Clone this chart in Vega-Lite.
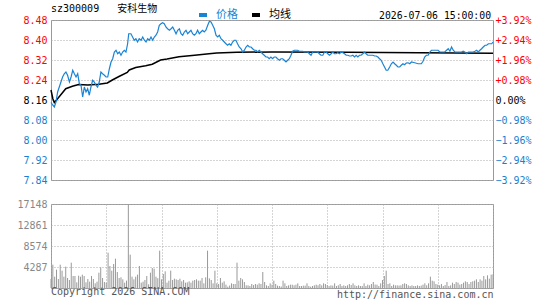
{
  "$schema": "https://vega.github.io/schema/vega-lite/v6.json",
  "background": "white",
  "padding": {"left": 16, "top": 3, "right": 5, "bottom": 0},
  "spacing": 24,
  "bounds": "flush",
  "config": {
    "font": "DejaVu Sans Mono, Noto Sans CJK SC",
    "view": {"stroke": "#999999", "strokeWidth": 1},
    "axis": {
      "labelFont": "DejaVu Sans Mono",
      "labelFontSize": 10,
      "ticks": false,
      "domain": false,
      "gridColor": "#aaaaaa",
      "gridDash": [1, 2],
      "gridOpacity": 1,
      "labelPadding": 4,
      "labelFlush": false
    }
  },
  "datasets": {
    "price": [
      {"s":"价格","t":0,"p":8.150},{"s":"价格","t":0.9,"p":8.140},{"s":"价格","t":1.8,"p":8.132},{"s":"价格","t":2.7,"p":8.152},{"s":"价格","t":3.6,"p":8.192},{"s":"价格","t":4.5,"p":8.212},{"s":"价格","t":5.4,"p":8.232},{"s":"价格","t":6.3,"p":8.252},{"s":"价格","t":7.2,"p":8.265},{"s":"价格","t":8.1,"p":8.272},{"s":"价格","t":9.0,"p":8.259},{"s":"价格","t":10.0,"p":8.232},{"s":"价格","t":10.9,"p":8.252},{"s":"价格","t":11.8,"p":8.279},{"s":"价格","t":12.7,"p":8.265},{"s":"价格","t":13.6,"p":8.252},{"s":"价格","t":14.5,"p":8.265},{"s":"价格","t":15.4,"p":8.225},{"s":"价格","t":16.3,"p":8.219},{"s":"价格","t":17.2,"p":8.172},{"s":"价格","t":18.1,"p":8.212},{"s":"价格","t":19.0,"p":8.192},{"s":"价格","t":19.9,"p":8.205},{"s":"价格","t":20.8,"p":8.179},{"s":"价格","t":21.7,"p":8.212},{"s":"价格","t":22.6,"p":8.239},{"s":"价格","t":23.5,"p":8.232},{"s":"价格","t":24.4,"p":8.219},{"s":"价格","t":25.3,"p":8.212},{"s":"价格","t":26.2,"p":8.232},{"s":"价格","t":27.1,"p":8.272},{"s":"价格","t":28.0,"p":8.265},{"s":"价格","t":29.0,"p":8.259},{"s":"价格","t":29.9,"p":8.252},{"s":"价格","t":30.8,"p":8.252},{"s":"价格","t":31.7,"p":8.285},{"s":"价格","t":32.6,"p":8.312},{"s":"价格","t":33.5,"p":8.325},{"s":"价格","t":34.4,"p":8.352},{"s":"价格","t":35.3,"p":8.359},{"s":"价格","t":36.2,"p":8.345},{"s":"价格","t":37.1,"p":8.352},{"s":"价格","t":38.0,"p":8.339},{"s":"价格","t":38.9,"p":8.352},{"s":"价格","t":39.8,"p":8.359},{"s":"价格","t":40.7,"p":8.352},{"s":"价格","t":41.6,"p":8.385},{"s":"价格","t":42.2,"p":8.425},{"s":"价格","t":43.4,"p":8.425},{"s":"价格","t":44.3,"p":8.412},{"s":"价格","t":45.2,"p":8.399},{"s":"价格","t":46.1,"p":8.405},{"s":"价格","t":47.0,"p":8.392},{"s":"价格","t":47.9,"p":8.405},{"s":"价格","t":48.9,"p":8.399},{"s":"价格","t":49.8,"p":8.412},{"s":"价格","t":50.7,"p":8.399},{"s":"价格","t":51.6,"p":8.392},{"s":"价格","t":52.5,"p":8.405},{"s":"价格","t":53.4,"p":8.399},{"s":"价格","t":54.3,"p":8.412},{"s":"价格","t":55.2,"p":8.399},{"s":"价格","t":56.1,"p":8.412},{"s":"价格","t":57.0,"p":8.419},{"s":"价格","t":57.9,"p":8.432},{"s":"价格","t":58.8,"p":8.459},{"s":"价格","t":59.7,"p":8.465},{"s":"价格","t":60.6,"p":8.469},{"s":"价格","t":61.5,"p":8.465},{"s":"价格","t":62.4,"p":8.452},{"s":"价格","t":63.3,"p":8.445},{"s":"价格","t":64.3,"p":8.439},{"s":"价格","t":65.2,"p":8.445},{"s":"价格","t":66.1,"p":8.452},{"s":"价格","t":67.0,"p":8.439},{"s":"价格","t":67.9,"p":8.425},{"s":"价格","t":68.8,"p":8.439},{"s":"价格","t":69.7,"p":8.445},{"s":"价格","t":70.6,"p":8.425},{"s":"价格","t":71.5,"p":8.419},{"s":"价格","t":72.4,"p":8.432},{"s":"价格","t":73.3,"p":8.439},{"s":"价格","t":74.2,"p":8.425},{"s":"价格","t":75.1,"p":8.432},{"s":"价格","t":76.0,"p":8.439},{"s":"价格","t":76.9,"p":8.425},{"s":"价格","t":77.8,"p":8.419},{"s":"价格","t":78.7,"p":8.425},{"s":"价格","t":79.6,"p":8.439},{"s":"价格","t":80.5,"p":8.425},{"s":"价格","t":81.4,"p":8.432},{"s":"价格","t":82.3,"p":8.439},{"s":"价格","t":83.2,"p":8.432},{"s":"价格","t":84.1,"p":8.439},{"s":"价格","t":85.1,"p":8.459},{"s":"价格","t":86.0,"p":8.475},{"s":"价格","t":86.9,"p":8.472},{"s":"价格","t":87.8,"p":8.459},{"s":"价格","t":88.7,"p":8.445},{"s":"价格","t":89.6,"p":8.419},{"s":"价格","t":90.5,"p":8.412},{"s":"价格","t":91.4,"p":8.419},{"s":"价格","t":92.3,"p":8.405},{"s":"价格","t":93.2,"p":8.399},{"s":"价格","t":94.1,"p":8.392},{"s":"价格","t":95.0,"p":8.385},{"s":"价格","t":95.9,"p":8.379},{"s":"价格","t":96.8,"p":8.385},{"s":"价格","t":97.7,"p":8.379},{"s":"价格","t":98.6,"p":8.392},{"s":"价格","t":99.5,"p":8.399},{"s":"价格","t":100.4,"p":8.399},{"s":"价格","t":101.3,"p":8.385},{"s":"价格","t":102.2,"p":8.372},{"s":"价格","t":103.2,"p":8.365},{"s":"价格","t":104.1,"p":8.352},{"s":"价格","t":105.0,"p":8.359},{"s":"价格","t":105.9,"p":8.372},{"s":"价格","t":106.8,"p":8.379},{"s":"价格","t":107.7,"p":8.372},{"s":"价格","t":108.6,"p":8.372},{"s":"价格","t":109.5,"p":8.365},{"s":"价格","t":110.4,"p":8.359},{"s":"价格","t":111.3,"p":8.359},{"s":"价格","t":112.2,"p":8.352},{"s":"价格","t":113.1,"p":8.359},{"s":"价格","t":114.0,"p":8.352},{"s":"价格","t":114.9,"p":8.345},{"s":"价格","t":115.8,"p":8.339},{"s":"价格","t":116.7,"p":8.332},{"s":"价格","t":117.6,"p":8.332},{"s":"价格","t":118.5,"p":8.325},{"s":"价格","t":119.4,"p":8.332},{"s":"价格","t":120.3,"p":8.325},{"s":"价格","t":121.2,"p":8.332},{"s":"价格","t":122.1,"p":8.332},{"s":"价格","t":123.0,"p":8.325},{"s":"价格","t":124.0,"p":8.319},{"s":"价格","t":124.9,"p":8.325},{"s":"价格","t":125.8,"p":8.325},{"s":"价格","t":126.7,"p":8.319},{"s":"价格","t":127.6,"p":8.312},{"s":"价格","t":128.5,"p":8.319},{"s":"价格","t":129.4,"p":8.325},{"s":"价格","t":130.3,"p":8.339},{"s":"价格","t":131.2,"p":8.355},{"s":"价格","t":132.1,"p":8.359},{"s":"价格","t":133.9,"p":8.359},{"s":"价格","t":134.9,"p":8.355},{"s":"价格","t":136.7,"p":8.355},{"s":"价格","t":137.6,"p":8.352},{"s":"价格","t":139.4,"p":8.352},{"s":"价格","t":140.3,"p":8.345},{"s":"价格","t":141.2,"p":8.339},{"s":"价格","t":142.1,"p":8.352},{"s":"价格","t":144.8,"p":8.352},{"s":"价格","t":145.7,"p":8.345},{"s":"价格","t":146.6,"p":8.339},{"s":"价格","t":147.6,"p":8.339},{"s":"价格","t":148.5,"p":8.352},{"s":"价格","t":149.4,"p":8.352},{"s":"价格","t":150.3,"p":8.345},{"s":"价格","t":151.2,"p":8.339},{"s":"价格","t":152.1,"p":8.345},{"s":"价格","t":153.0,"p":8.352},{"s":"价格","t":153.9,"p":8.345},{"s":"价格","t":154.8,"p":8.345},{"s":"价格","t":155.7,"p":8.349},{"s":"价格","t":156.6,"p":8.345},{"s":"价格","t":157.6,"p":8.352},{"s":"价格","t":158.5,"p":8.349},{"s":"价格","t":159.4,"p":8.345},{"s":"价格","t":160.3,"p":8.339},{"s":"价格","t":161.2,"p":8.339},{"s":"价格","t":162.1,"p":8.336},{"s":"价格","t":163.0,"p":8.336},{"s":"价格","t":163.9,"p":8.339},{"s":"价格","t":164.8,"p":8.332},{"s":"价格","t":165.7,"p":8.339},{"s":"价格","t":166.6,"p":8.332},{"s":"价格","t":167.5,"p":8.339},{"s":"价格","t":168.4,"p":8.339},{"s":"价格","t":169.3,"p":8.345},{"s":"价格","t":170.2,"p":8.352},{"s":"价格","t":171.1,"p":8.345},{"s":"价格","t":172.0,"p":8.339},{"s":"价格","t":174.8,"p":8.339},{"s":"价格","t":175.7,"p":8.336},{"s":"价格","t":176.6,"p":8.336},{"s":"价格","t":177.5,"p":8.332},{"s":"价格","t":178.4,"p":8.325},{"s":"价格","t":179.3,"p":8.319},{"s":"价格","t":180.2,"p":8.305},{"s":"价格","t":181.1,"p":8.292},{"s":"价格","t":182.0,"p":8.279},{"s":"价格","t":182.9,"p":8.279},{"s":"价格","t":183.9,"p":8.292},{"s":"价格","t":184.8,"p":8.305},{"s":"价格","t":185.7,"p":8.312},{"s":"价格","t":186.6,"p":8.305},{"s":"价格","t":187.5,"p":8.299},{"s":"价格","t":188.4,"p":8.292},{"s":"价格","t":189.3,"p":8.292},{"s":"价格","t":190.2,"p":8.299},{"s":"价格","t":191.1,"p":8.305},{"s":"价格","t":192.0,"p":8.301},{"s":"价格","t":192.9,"p":8.308},{"s":"价格","t":193.9,"p":8.309},{"s":"价格","t":194.8,"p":8.305},{"s":"价格","t":195.7,"p":8.312},{"s":"价格","t":197.5,"p":8.309},{"s":"价格","t":199.3,"p":8.305},{"s":"价格","t":201.1,"p":8.305},{"s":"价格","t":202.0,"p":8.315},{"s":"价格","t":202.9,"p":8.332},{"s":"价格","t":203.8,"p":8.339},{"s":"价格","t":204.8,"p":8.339},{"s":"价格","t":205.7,"p":8.352},{"s":"价格","t":206.6,"p":8.359},{"s":"价格","t":210.2,"p":8.359},{"s":"价格","t":211.1,"p":8.352},{"s":"价格","t":213.8,"p":8.352},{"s":"价格","t":214.8,"p":8.359},{"s":"价格","t":215.7,"p":8.365},{"s":"价格","t":216.6,"p":8.355},{"s":"价格","t":217.5,"p":8.372},{"s":"价格","t":218.4,"p":8.359},{"s":"价格","t":219.3,"p":8.352},{"s":"价格","t":222.9,"p":8.352},{"s":"价格","t":223.8,"p":8.355},{"s":"价格","t":224.7,"p":8.352},{"s":"价格","t":225.7,"p":8.345},{"s":"价格","t":226.6,"p":8.352},{"s":"价格","t":229.3,"p":8.352},{"s":"价格","t":230.2,"p":8.355},{"s":"价格","t":231.1,"p":8.359},{"s":"价格","t":232.0,"p":8.352},{"s":"价格","t":232.9,"p":8.359},{"s":"价格","t":233.8,"p":8.365},{"s":"价格","t":234.7,"p":8.372},{"s":"价格","t":235.7,"p":8.379},{"s":"价格","t":236.6,"p":8.379},{"s":"价格","t":237.5,"p":8.385},{"s":"价格","t":239.3,"p":8.385},{"s":"价格","t":240,"p":8.392}
    ],
    "avg": [
      {"s":"均线","t":0,"p":8.200},{"s":"均线","t":1,"p":8.165},{"s":"均线","t":1.8,"p":8.150},{"s":"均线","t":3,"p":8.160},{"s":"均线","t":5,"p":8.178},{"s":"均线","t":8,"p":8.205},{"s":"均线","t":11.6,"p":8.215},{"s":"均线","t":15,"p":8.222},{"s":"均线","t":20,"p":8.220},{"s":"均线","t":26,"p":8.223},{"s":"均线","t":30.6,"p":8.228},{"s":"均线","t":33.3,"p":8.240},{"s":"均线","t":36.9,"p":8.254},{"s":"均线","t":41.4,"p":8.270},{"s":"均线","t":42.5,"p":8.280},{"s":"均线","t":46,"p":8.290},{"s":"均线","t":51.4,"p":8.297},{"s":"均线","t":55,"p":8.303},{"s":"均线","t":59.5,"p":8.320},{"s":"均线","t":63,"p":8.324},{"s":"均线","t":69.5,"p":8.333},{"s":"均线","t":78,"p":8.339},{"s":"均线","t":85.8,"p":8.345},{"s":"均线","t":90,"p":8.348},{"s":"均线","t":101,"p":8.351},{"s":"均线","t":120,"p":8.352},{"s":"均线","t":160,"p":8.351},{"s":"均线","t":200,"p":8.349},{"s":"均线","t":240,"p":8.347}
    ],
    "vol": [
      {"t":0,"v":1837},{"t":1,"v":4763},{"t":2,"v":2313},{"t":3,"v":3742},{"t":4,"v":1837},{"t":5,"v":4763},{"t":6,"v":3538},{"t":7,"v":2313},{"t":8,"v":4355},{"t":9,"v":2041},{"t":10,"v":1633},{"t":11,"v":5171},{"t":12,"v":2449},{"t":13,"v":2449},{"t":14,"v":1157},{"t":15,"v":2517},{"t":16,"v":2313},{"t":17,"v":2722},{"t":18,"v":2449},{"t":19,"v":1157},{"t":20,"v":1837},{"t":21,"v":1293},{"t":22,"v":2449},{"t":23,"v":1837},{"t":24,"v":953},{"t":25,"v":1293},{"t":26,"v":3130},{"t":27,"v":4218},{"t":28,"v":2041},{"t":29,"v":1225},{"t":30,"v":1089},{"t":31,"v":7212},{"t":32,"v":4490},{"t":33,"v":3538},{"t":34,"v":4899},{"t":35,"v":5988},{"t":36,"v":3266},{"t":37,"v":2041},{"t":38,"v":2177},{"t":39,"v":1769},{"t":40,"v":1089},{"t":41,"v":1500},{"t":42,"v":17148},{"t":43,"v":6804},{"t":44,"v":2313},{"t":45,"v":1769},{"t":46,"v":2313},{"t":47,"v":2722},{"t":48,"v":4490},{"t":49,"v":1089},{"t":50,"v":1293},{"t":51,"v":1633},{"t":52,"v":2449},{"t":53,"v":748},{"t":54,"v":3130},{"t":55,"v":4082},{"t":56,"v":3946},{"t":57,"v":2313},{"t":58,"v":2000},{"t":59,"v":7620},{"t":60,"v":1769},{"t":61,"v":2858},{"t":62,"v":3402},{"t":63,"v":1089},{"t":64,"v":1497},{"t":65,"v":3538},{"t":66,"v":1633},{"t":67,"v":1905},{"t":68,"v":1769},{"t":69,"v":1633},{"t":70,"v":1905},{"t":71,"v":1361},{"t":72,"v":1633},{"t":73,"v":1089},{"t":74,"v":1157},{"t":75,"v":1361},{"t":76,"v":1089},{"t":77,"v":1497},{"t":78,"v":1633},{"t":79,"v":1769},{"t":80,"v":1500},{"t":81,"v":1497},{"t":82,"v":2041},{"t":83,"v":953},{"t":84,"v":2177},{"t":85,"v":7620},{"t":86,"v":1973},{"t":87,"v":1633},{"t":88,"v":953},{"t":89,"v":3538},{"t":90,"v":953},{"t":91,"v":816},{"t":92,"v":2041},{"t":93,"v":1089},{"t":94,"v":1361},{"t":95,"v":680},{"t":96,"v":272},{"t":97,"v":500},{"t":98,"v":953},{"t":99,"v":816},{"t":100,"v":816},{"t":101,"v":5171},{"t":102,"v":1497},{"t":103,"v":2041},{"t":104,"v":1769},{"t":105,"v":1225},{"t":106,"v":544},{"t":107,"v":544},{"t":108,"v":408},{"t":109,"v":816},{"t":110,"v":600},{"t":111,"v":816},{"t":112,"v":680},{"t":113,"v":953},{"t":114,"v":816},{"t":115,"v":3266},{"t":116,"v":1225},{"t":117,"v":544},{"t":118,"v":408},{"t":119,"v":953},{"t":120,"v":680},
      {"t":121,"v":1497},{"t":122,"v":816},{"t":123,"v":476},{"t":124,"v":408},{"t":125,"v":300},{"t":126,"v":1497},{"t":127,"v":953},{"t":128,"v":408},{"t":129,"v":544},{"t":130,"v":680},{"t":131,"v":680},{"t":132,"v":544},{"t":133,"v":680},{"t":134,"v":953},{"t":135,"v":408},{"t":136,"v":400},{"t":137,"v":476},{"t":138,"v":476},{"t":139,"v":953},{"t":140,"v":408},{"t":141,"v":272},{"t":142,"v":408},{"t":143,"v":544},{"t":144,"v":680},{"t":145,"v":544},{"t":146,"v":816},{"t":147,"v":544},{"t":148,"v":953},{"t":149,"v":816},{"t":150,"v":600},{"t":151,"v":408},{"t":152,"v":544},{"t":153,"v":476},{"t":154,"v":953},{"t":155,"v":408},{"t":156,"v":544},{"t":157,"v":816},{"t":158,"v":408},{"t":159,"v":544},{"t":160,"v":408},{"t":161,"v":544},{"t":162,"v":816},{"t":163,"v":600},{"t":164,"v":953},{"t":165,"v":544},{"t":166,"v":408},{"t":167,"v":544},{"t":168,"v":408},{"t":169,"v":408},{"t":170,"v":953},{"t":171,"v":408},{"t":172,"v":680},{"t":173,"v":544},{"t":174,"v":816},{"t":175,"v":1225},{"t":176,"v":700},{"t":177,"v":680},{"t":178,"v":408},{"t":179,"v":953},{"t":180,"v":1633},{"t":181,"v":2449},{"t":182,"v":3538},{"t":183,"v":816},{"t":184,"v":953},{"t":185,"v":408},{"t":186,"v":680},{"t":187,"v":544},{"t":188,"v":544},{"t":189,"v":500},{"t":190,"v":544},{"t":191,"v":816},{"t":192,"v":953},{"t":193,"v":816},{"t":194,"v":544},{"t":195,"v":408},{"t":196,"v":544},{"t":197,"v":408},{"t":198,"v":408},{"t":199,"v":544},{"t":200,"v":408},{"t":201,"v":500},{"t":202,"v":680},{"t":203,"v":953},{"t":204,"v":544},{"t":205,"v":953},{"t":206,"v":2313},{"t":207,"v":1497},{"t":208,"v":1361},{"t":209,"v":816},{"t":210,"v":680},{"t":211,"v":544},{"t":212,"v":816},{"t":213,"v":408},{"t":214,"v":600},{"t":215,"v":1225},{"t":216,"v":408},{"t":217,"v":544},{"t":218,"v":1089},{"t":219,"v":816},{"t":220,"v":1225},{"t":221,"v":1089},{"t":222,"v":680},{"t":223,"v":816},{"t":224,"v":1089},{"t":225,"v":1361},{"t":226,"v":1225},{"t":227,"v":816},{"t":228,"v":1225},{"t":229,"v":1361},{"t":230,"v":1500},{"t":231,"v":1769},{"t":232,"v":1225},{"t":233,"v":1769},{"t":234,"v":1497},{"t":235,"v":2449},{"t":236,"v":1769},{"t":237,"v":2585},{"t":238,"v":1905},{"t":239,"v":2722},{"t":240,"v":2800}
    ]
  },
  "vconcat": [
    {
      "width": 442,
      "height": 160,
      "title": {
        "text": "sz300009\u00a0\u00a0\u00a0安科生物",
        "anchor": "start",
        "frame": "group",
        "font": "DejaVu Sans Mono, Noto Sans CJK SC",
        "fontSize": 10,
        "fontWeight": "normal",
        "color": "#000000",
        "offset": 1
      },
      "layer": [
        {
          "mark": {"type": "rule", "color": "#000000", "strokeDash": [3, 3], "strokeWidth": 1},
          "encoding": {
            "y": {
              "datum": 8.16,
              "type": "quantitative",
              "scale": {"domain": [7.84, 8.48], "nice": false, "zero": false},
              "axis": {
                "orient": "right",
                "values": [7.84, 7.92, 8.0, 8.08, 8.16, 8.24, 8.32, 8.40, 8.48],
                "labelExpr": "(datum.value > 8.165 ? '+' : '') + format((datum.value - 8.16) / 8.16 * 100, '.2f') + '%'",
                "labelColor": {"expr": "datum.value > 8.165 ? '#ff0000' : (datum.value < 8.155 ? '#1a7fd0' : '#000000')"},
                "labelPadding": 2,
                "grid": false,
                "title": null
              }
            }
          }
        },
        {
          "data": {"name": "avg"},
          "mark": {"type": "line", "strokeWidth": 1.5},
          "encoding": {
            "x": {"field": "t", "type": "quantitative", "axis": null},
            "y": {"field": "p", "type": "quantitative", "axis": null},
            "color": {"field": "s", "type": "nominal"}
          }
        },
        {
          "data": {"name": "price"},
          "mark": {"type": "line", "strokeWidth": 1.2},
          "encoding": {
            "x": {
              "field": "t",
              "type": "quantitative",
              "scale": {"domain": [0, 240], "nice": false, "zero": false},
              "axis": {
                "values": [0, 30, 60, 90, 120, 150, 180, 210, 240],
                "labelExpr": "['09:30','10:00','10:30','11:00','11:30','13:30','14:00','14:30','15:00'][round(datum.value / 30)]",
                "labelColor": "#1a7fd0",
                "labelPadding": 5,
                "grid": true,
                "title": null
              }
            },
            "y": {
              "field": "p",
              "type": "quantitative",
              "scale": {"domain": [7.84, 8.48], "nice": false, "zero": false},
              "axis": {
                "orient": "left",
                "values": [7.84, 7.92, 8.0, 8.08, 8.16, 8.24, 8.32, 8.40, 8.48],
                "format": ".2f",
                "labelColor": {"expr": "datum.value > 8.165 ? '#ff0000' : (datum.value < 8.155 ? '#1a7fd0' : '#000000')"},
                "grid": true,
                "title": null
              }
            },
            "color": {
              "field": "s",
              "type": "nominal",
              "scale": {"domain": ["价格", "均线"], "range": ["#1a84d4", "#000000"]},
              "legend": {
                "orient": "none",
                "legendX": 146,
                "legendY": -11,
                "direction": "horizontal",
                "symbolType": "stroke",
                "symbolStrokeWidth": 4,
                "symbolSize": 64,
                "labelFont": "Noto Sans CJK SC",
                "labelFontSize": 11,
                "labelOffset": 7,
                "columnPadding": 6,
                "labelColor": {"expr": "datum.label == '价格' ? '#1a84d4' : '#000000'"},
                "title": "2026-07-06 15:00:00",
                "titleOrient": "right",
                "titlePadding": 88,
                "titleFont": "DejaVu Sans Mono",
                "titleFontSize": 9.8,
                "titleFontWeight": "normal",
                "titleColor": "#000000"
              }
            }
          }
        }
      ],
      "resolve": {"axis": {"y": "independent"}}
    },
    {
      "width": 442,
      "height": 84,
      "data": {"name": "vol"},
      "title": {
        "text": "Copyright 2026 SINA.COM",
        "orient": "bottom",
        "anchor": "start",
        "frame": "group",
        "font": "DejaVu Sans Mono",
        "fontSize": 10,
        "fontWeight": "normal",
        "color": "#555555",
        "offset": -12
      },
      "mark": {"type": "rule", "color": "#999999", "strokeWidth": 1},
      "encoding": {
        "x": {
          "field": "t",
          "type": "quantitative",
          "scale": {"domain": [0, 240], "nice": false, "zero": false},
          "axis": {
            "values": [0, 30, 60, 90, 120, 150, 180, 210, 240],
            "labels": false,
            "grid": true,
            "title": "http://finance.sina.com.cn",
            "titleAnchor": "end",
            "titleFont": "DejaVu Sans Mono",
            "titleFontSize": 10,
            "titleFontWeight": "normal",
            "titleColor": "#555555",
            "titlePadding": 1
          }
        },
        "y": {
          "field": "v",
          "type": "quantitative",
          "scale": {"domain": [0, 17148], "nice": false},
          "axis": {
            "values": [0, 4287, 8574, 12861, 17148],
            "format": "d",
            "labelExpr": "datum.value == 0 ? '' : datum.label",
            "labelColor": "#888888",
            "grid": true,
            "title": null
          }
        },
        "y2": {"datum": 0}
      }
    }
  ]
}
